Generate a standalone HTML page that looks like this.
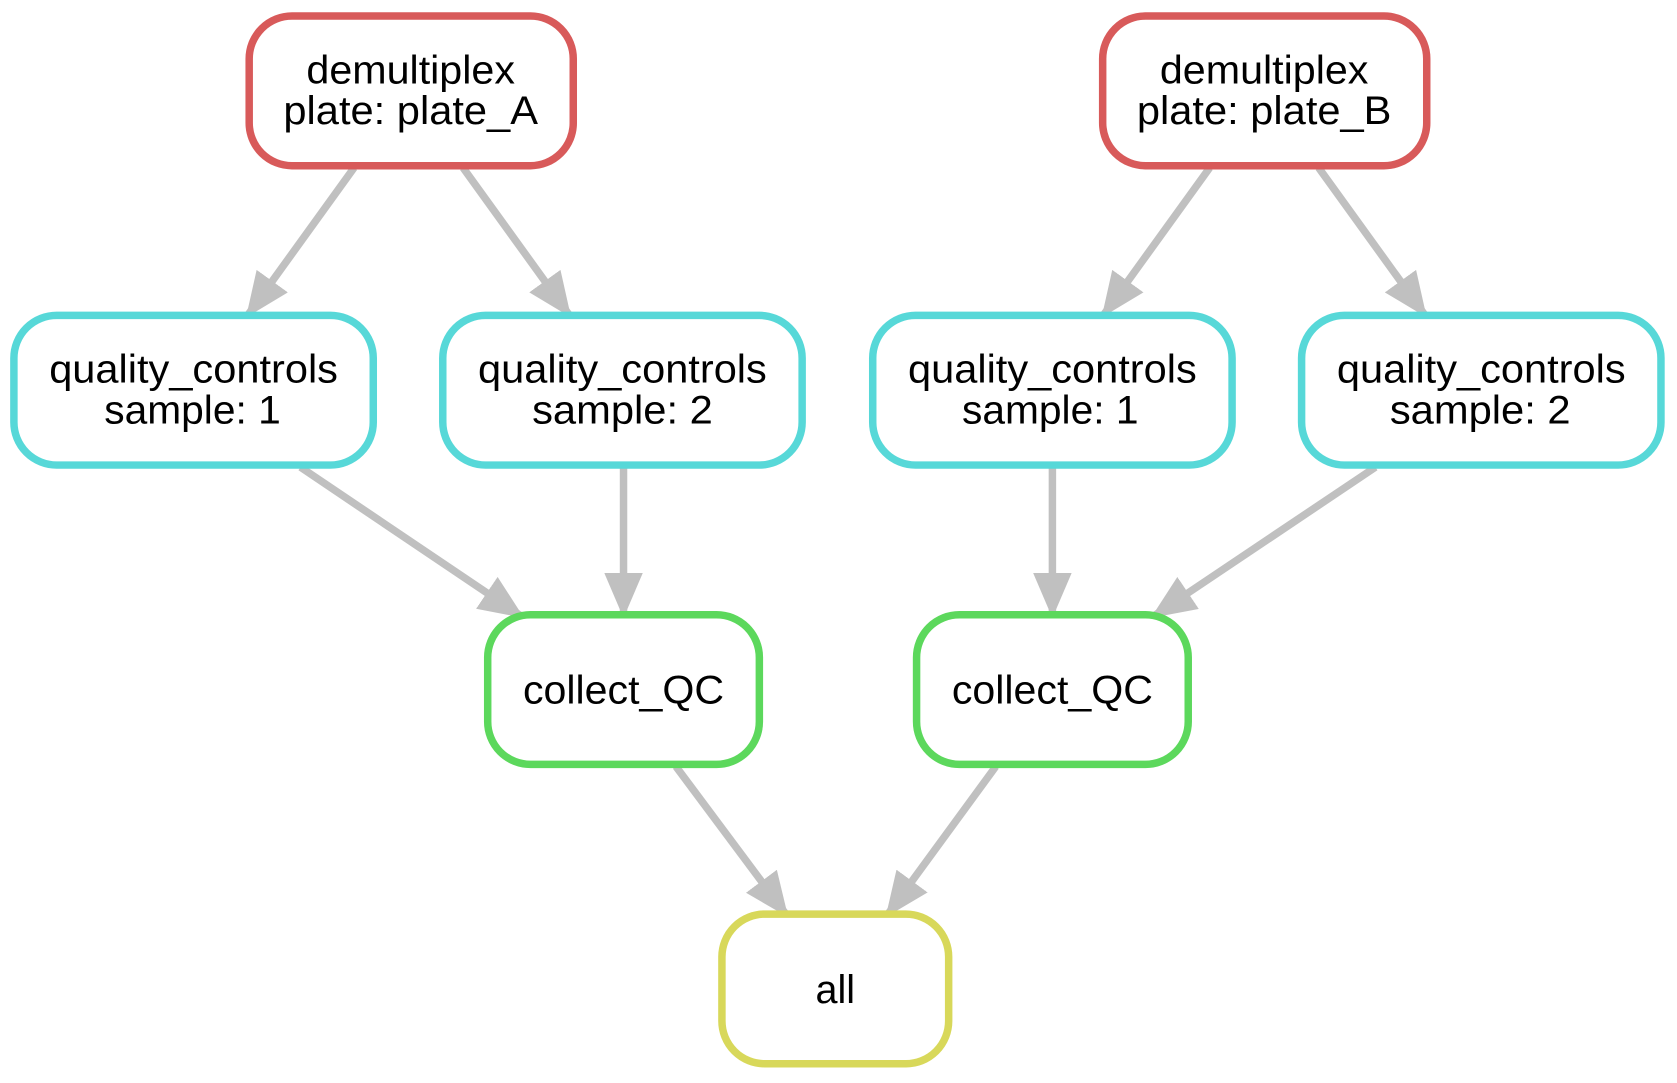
<!DOCTYPE html>
<html><head><meta charset="utf-8"><style>
html,body{margin:0;padding:0;background:#fff;}
svg{display:block;}
text{font-family:"Liberation Sans",Arial,sans-serif;font-size:37px;fill:#000;text-anchor:middle;}
</style></head><body>
<svg width="1677" height="1083" viewBox="0 0 1568 1013" preserveAspectRatio="none" xmlns="http://www.w3.org/2000/svg">
<defs>
<marker id="ah" markerUnits="userSpaceOnUse" markerWidth="42" markerHeight="36" viewBox="0 0 42 36" refX="42" refY="18" orient="auto">
<path d="M0,0 L42,18 L0,36 z" fill="#c0c0c0"/>
</marker>
</defs>
<g stroke="#c0c0c0" stroke-width="7" fill="none" marker-end="url(#ah)">
<line x1="331" y1="157" x2="230" y2="297"/>
<line x1="433" y1="157" x2="534" y2="297"/>
<line x1="1131" y1="157" x2="1030" y2="297"/>
<line x1="1233" y1="157" x2="1334" y2="297"/>
<line x1="281" y1="437" x2="490" y2="578"/>
<line x1="583" y1="437" x2="583" y2="578"/>
<line x1="984" y1="437" x2="984" y2="578"/>
<line x1="1286" y1="437" x2="1076" y2="578"/>
<line x1="632" y1="717" x2="737" y2="858"/>
<line x1="931" y1="717" x2="828" y2="858"/>
</g>
<g stroke-width="7" fill="#fff">
<rect x="233" y="15" width="303" height="140" rx="40" stroke="#d85a5a"/>
<rect x="1031" y="15" width="303" height="140" rx="40" stroke="#d85a5a"/>
<rect x="13" y="295" width="336" height="140" rx="40" stroke="#57d8d8"/>
<rect x="414" y="295" width="336" height="140" rx="40" stroke="#57d8d8"/>
<rect x="816" y="295" width="336" height="140" rx="40" stroke="#57d8d8"/>
<rect x="1217" y="295" width="336" height="140" rx="40" stroke="#57d8d8"/>
<rect x="456" y="575" width="254" height="140" rx="40" stroke="#5cd85c"/>
<rect x="857" y="575" width="254" height="140" rx="40" stroke="#5cd85c"/>
<rect x="675" y="855" width="212" height="140" rx="40" stroke="#d8d85a"/>
</g>
<g>
<text x="384" y="78" textLength="195" lengthAdjust="spacingAndGlyphs">demultiplex</text>
<text x="384" y="116" textLength="238" lengthAdjust="spacingAndGlyphs">plate: plate_A</text>
<text x="1182" y="78" textLength="195" lengthAdjust="spacingAndGlyphs">demultiplex</text>
<text x="1182" y="116" textLength="238" lengthAdjust="spacingAndGlyphs">plate: plate_B</text>
<text x="181" y="358" textLength="270" lengthAdjust="spacingAndGlyphs">quality_controls</text>
<text x="180" y="396" textLength="165" lengthAdjust="spacingAndGlyphs">sample: 1</text>
<text x="582" y="358" textLength="270" lengthAdjust="spacingAndGlyphs">quality_controls</text>
<text x="582" y="396" textLength="169" lengthAdjust="spacingAndGlyphs">sample: 2</text>
<text x="984" y="358" textLength="270" lengthAdjust="spacingAndGlyphs">quality_controls</text>
<text x="982" y="396" textLength="165" lengthAdjust="spacingAndGlyphs">sample: 1</text>
<text x="1385" y="358" textLength="270" lengthAdjust="spacingAndGlyphs">quality_controls</text>
<text x="1384" y="396" textLength="169" lengthAdjust="spacingAndGlyphs">sample: 2</text>
<text x="583" y="658" textLength="188" lengthAdjust="spacingAndGlyphs">collect_QC</text>
<text x="984" y="658" textLength="188" lengthAdjust="spacingAndGlyphs">collect_QC</text>
<text x="781" y="938" textLength="37" lengthAdjust="spacingAndGlyphs">all</text>
</g>
</svg>
</body></html>
